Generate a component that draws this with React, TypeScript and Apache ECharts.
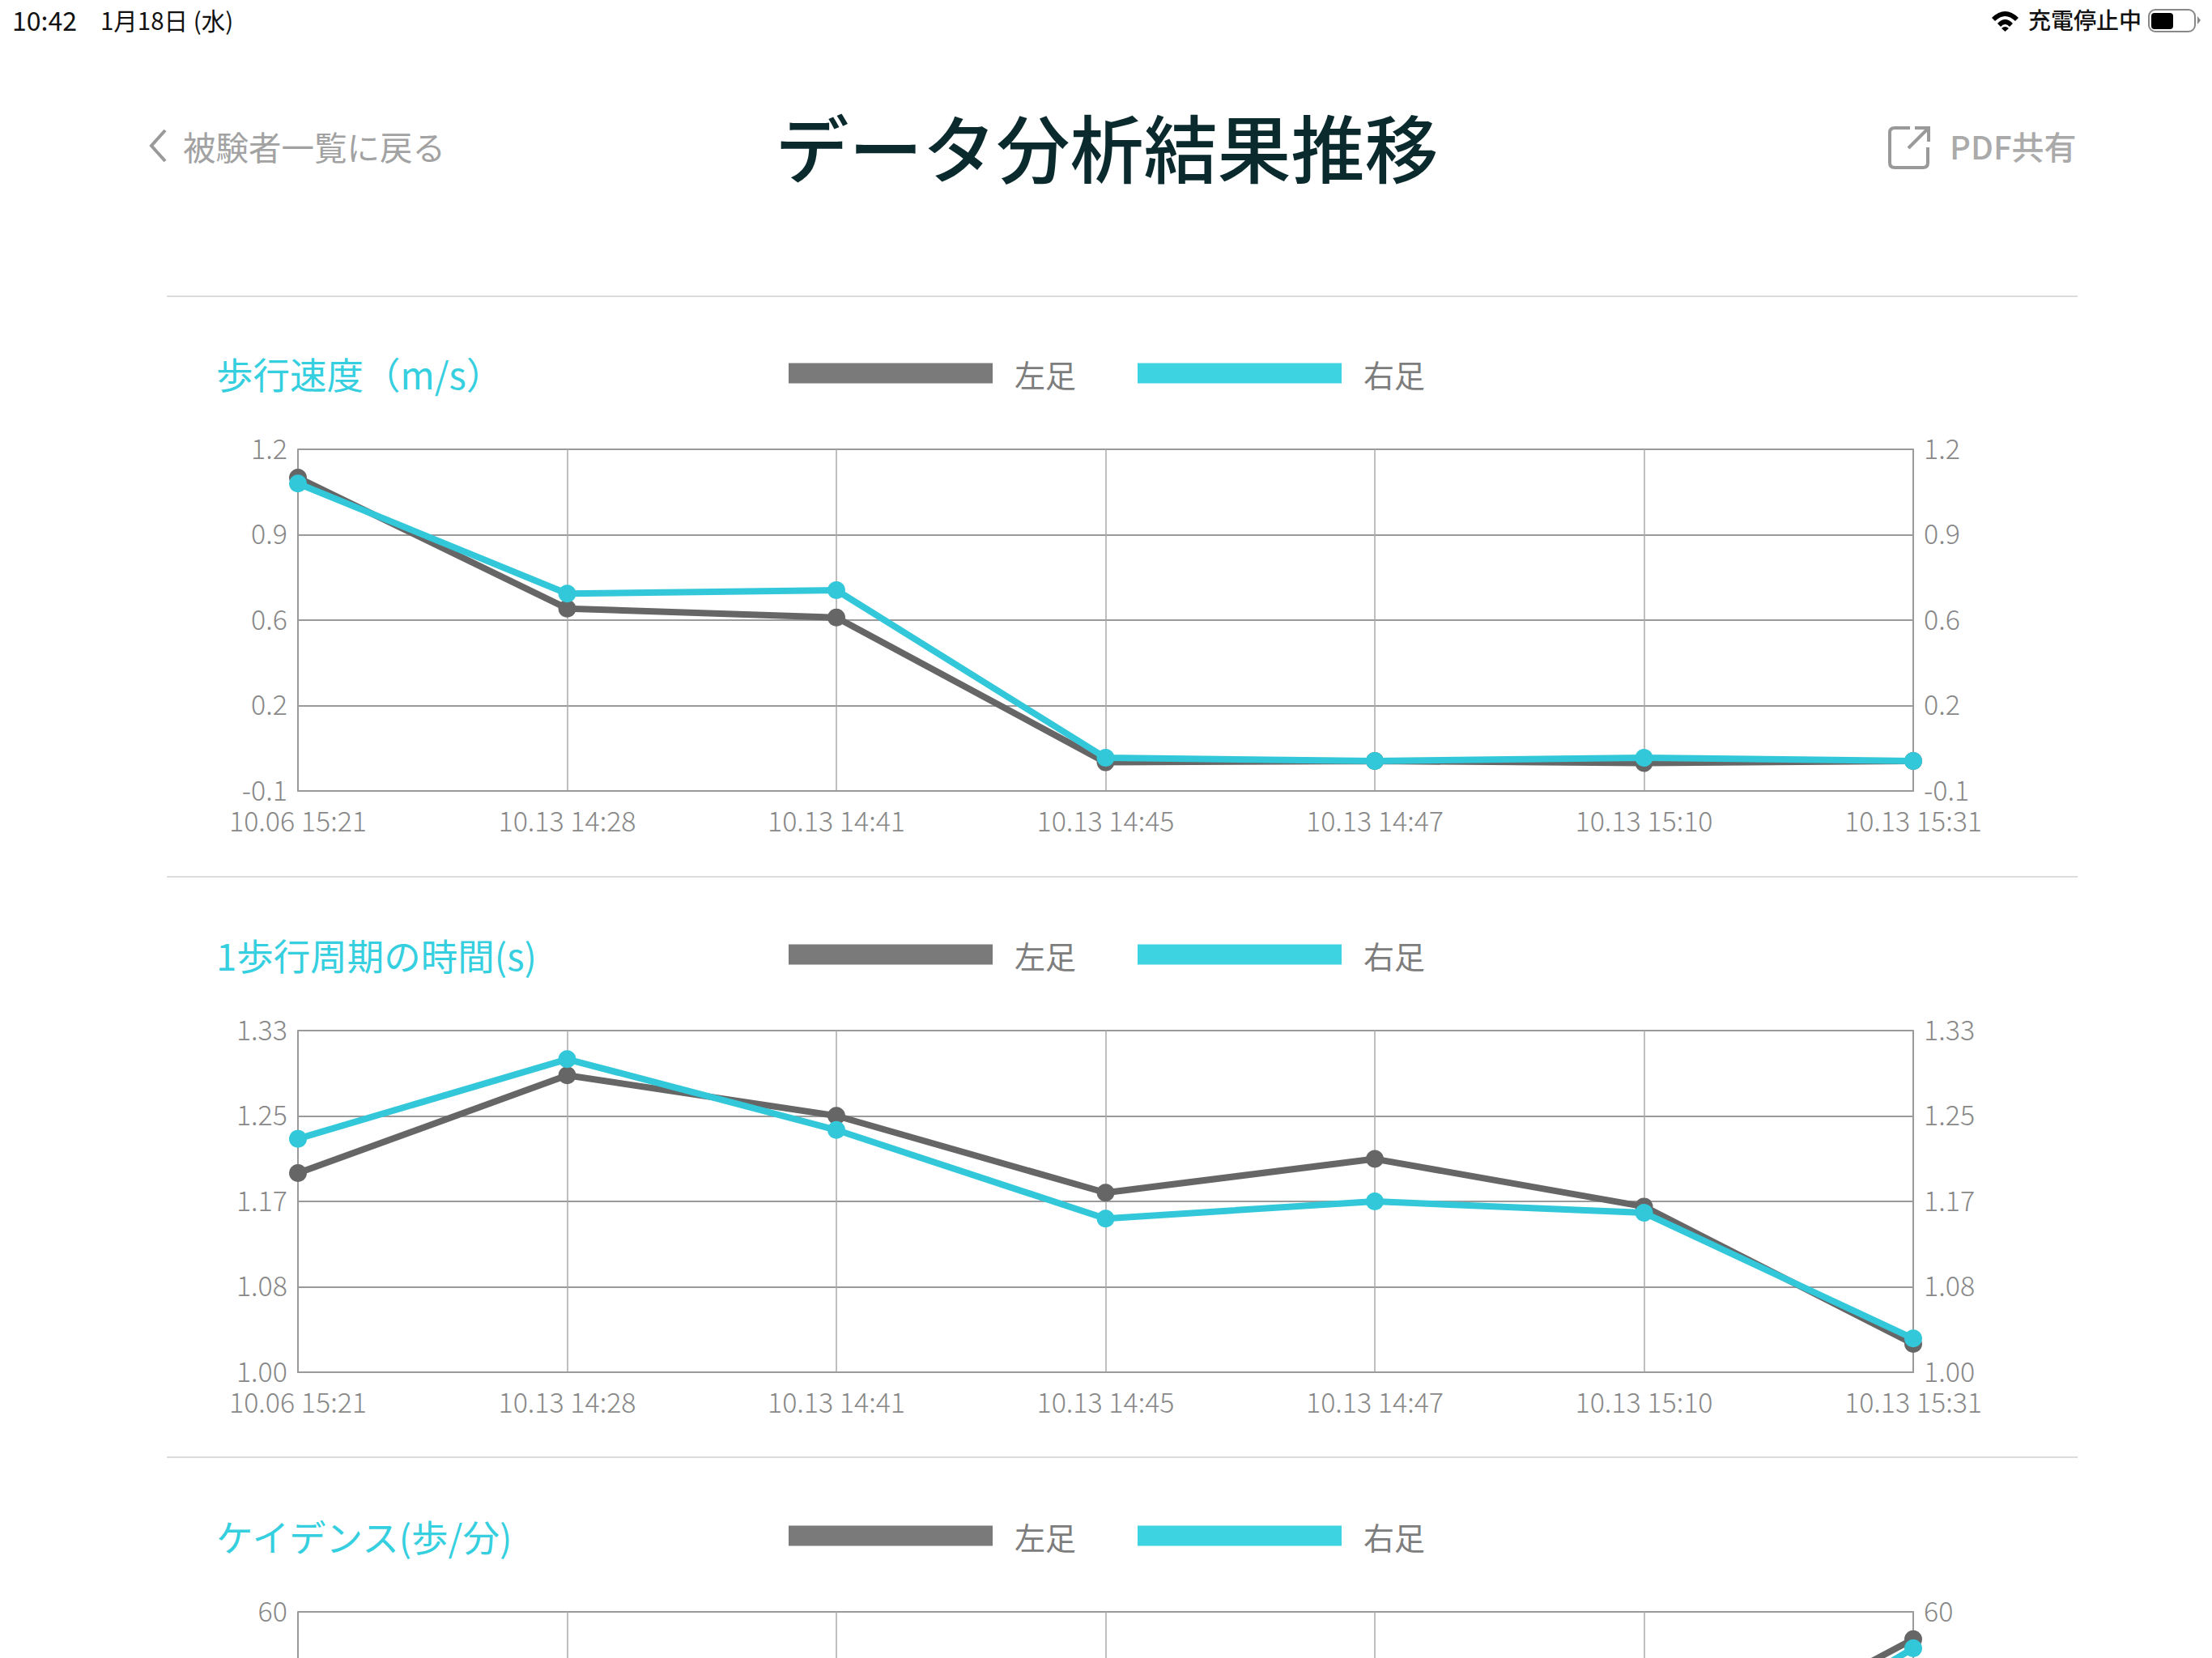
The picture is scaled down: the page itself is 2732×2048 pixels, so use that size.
import React, { useEffect, useRef } from "react";
import * as echarts from "echarts";

const sessions = ["10.06 15:21", "10.13 14:28", "10.13 14:41", "10.13 14:45", "10.13 14:47", "10.13 15:10", "10.13 15:31"];
const seriesNames = ["左足", "右足"];

const speedLeft = [1.092, 0.594, 0.56, 0.009, 0.014, 0.006, 0.014];
const speedRight = [1.07, 0.651, 0.664, 0.026, 0.014, 0.026, 0.014];
const speedTicks = [-0.1, 0.225, 0.55, 0.875, 1.2];

const cycleLeft = [1.1924, 1.2868, 1.2477, 1.1734, 1.206, 1.16, 1.0274];
const cycleRight = [1.2255, 1.3024, 1.234, 1.1484, 1.165, 1.154, 1.0326];
const cycleTicks = [1.0, 1.0825, 1.165, 1.2475, 1.33];

// Only the last segment of this chart is visible in the reference.
const cadenceLeft = [null, null, null, null, null, 30, 55.2];
const cadenceRight = [null, null, null, null, null, 25.3, 53.6];
const cadenceTicks = [60];

const panels = [
  { title: "歩行速度（m/s）", left: speedLeft, right: speedRight, ticks: speedTicks, min: -0.1, max: 1.2, digits: 1, top: 555, labels: true },
  { title: "1歩行周期の時間(s)", left: cycleLeft, right: cycleRight, ticks: cycleTicks, min: 1.0, max: 1.33, digits: 2, top: 1273, labels: true },
  { title: "ケイデンス(歩/分)", left: cadenceLeft, right: cadenceRight, ticks: cadenceTicks, min: 0, max: 60, digits: 0, top: 1991, labels: false },
];

const FONT = '"Noto Sans CJK JP", "Noto Sans", sans-serif';
const GREY = "#666666";
const CYAN = "#33c8d9";
const AXIS = "#9a9a9a";
const LABEL = "#888888";
const GRID_LEFT = 368;
const GRID_WIDTH = 1995;
const GRID_HEIGHT = 422;

echarts.graphic.registerShape(
  "wifi",
  echarts.graphic.extendPath(
    "M2460 22 Q2476.5 6 2493 22 L2489 26 Q2476.5 14 2464 26 Z M2467 29 Q2476.5 19 2486 29 L2482 33 Q2476.5 27 2471 33 Z M2472 35 Q2476.5 31 2481 35 L2476.5 39 Z",
    {}
  )
);
echarts.graphic.registerShape(
  "share",
  echarts.graphic.extendPath(
    "M2359 158 L2340 158 Q2334 158 2334 164 L2334 201 Q2334 207 2340 207 L2375 207 Q2381 207 2381 201 L2381 182 M2357 183 L2381 159 M2365 158 L2382 158 L2382 175",
    {}
  )
);

function buildOption() {
  const grid: any[] = [];
  const xAxis: any[] = [];
  const yAxis: any[] = [];
  const series: any[] = [];
  const legend: any[] = [];
  const graphic: any[] = [
    { type: "text", x: 15, y: 24, style: { text: "10:42", font: `32px ${FONT}`, fill: "#111", textVerticalAlign: "middle" } },
    { type: "text", x: 124, y: 24, style: { text: "1月18日 (水)", font: `29.5px ${FONT}`, fill: "#111", textVerticalAlign: "middle" } },
    { type: "wifi", style: { fill: "#000" } },
    { type: "text", x: 2505, y: 24, style: { text: "充電停止中", font: `500 28px ${FONT}`, fill: "#111", textVerticalAlign: "middle" } },
    { type: "rect", shape: { x: 2654, y: 12, width: 57, height: 27, r: 8 }, style: { fill: "#fff", stroke: "#888", lineWidth: 2 } },
    { type: "rect", shape: { x: 2657, y: 16, width: 27, height: 20, r: 4 }, style: { fill: "#000" } },
    { type: "polygon", shape: { points: [[2714, 20], [2718, 25], [2714, 30]] }, style: { fill: "#888" } },
    { type: "polyline", shape: { points: [[204, 161], [187, 180], [204, 199]] }, style: { stroke: "#999", lineWidth: 4, fill: "none" } },
    { type: "text", x: 226, y: 180, style: { text: "被験者一覧に戻る", font: `40.5px ${FONT}`, fill: "#a2a2a2", textVerticalAlign: "middle" } },
    { type: "text", x: 1367, y: 179, style: { text: "データ分析結果推移", font: `500 91px ${FONT}`, fill: "#0a2a2e", textAlign: "center", textVerticalAlign: "middle" } },
    { type: "share", style: { fill: "none", stroke: "#999", lineWidth: 4 } },
    { type: "text", x: 2408, y: 180, style: { text: "PDF共有", font: `500 40px ${FONT}`, fill: "#aaaaaa", textVerticalAlign: "middle" } },
  ];

  [366, 1083, 1800].forEach((y) => {
    graphic.push({ type: "line", shape: { x1: 206, y1: y, x2: 2566, y2: y }, style: { stroke: "#dcdcdc", lineWidth: 2 } });
  });

  panels.forEach((p, i) => {
    grid.push({ left: GRID_LEFT, top: p.top, width: GRID_WIDTH, height: GRID_HEIGHT, show: false, outerBoundsMode: "none", containLabel: false });
    xAxis.push({
      type: "category",
      gridIndex: i,
      data: sessions,
      boundaryGap: false,
      axisLine: { show: true, onZero: false, lineStyle: { color: AXIS, width: 2 } },
      axisTick: { show: false },
      splitLine: { show: true, interval: 0, lineStyle: { color: "#aaaaaa", width: 1.5 } },
      axisLabel: {
        show: p.labels,
        interval: 0,
        showMinLabel: true,
        showMaxLabel: true,
        margin: 18,
        color: LABEL,
        fontFamily: FONT,
        fontWeight: 300,
        fontSize: 34,
      },
    });
    const fmt = (v: number) => v.toFixed(p.digits);
    ["left", "right"].forEach((pos, k) => {
      yAxis.push({
        type: "value",
        gridIndex: i,
        position: pos,
        min: p.min,
        max: p.max,
        axisLine: { show: true, lineStyle: { color: AXIS, width: 2 } },
        axisTick: { show: false, customValues: p.ticks },
        splitLine: { show: k === 0, lineStyle: { color: AXIS, width: 2 } },
        axisLabel: {
          customValues: p.ticks,
          formatter: fmt,
          margin: 13,
          color: LABEL,
          fontFamily: FONT,
          fontWeight: 300,
          fontSize: 34,
          verticalAlign: "bottom",
          lineHeight: 6,
        },
      });
    });
    [p.left, p.right].forEach((values, k) => {
      series.push({
        name: seriesNames[k],
        type: "line",
        xAxisIndex: i,
        yAxisIndex: i * 2,
        data: values,
        clip: false,
        symbol: "circle",
        symbolSize: 22,
        showSymbol: true,
        connectNulls: false,
        z: 3 + k,
        lineStyle: { color: k === 0 ? GREY : CYAN, width: 8 },
        itemStyle: { color: k === 0 ? GREY : CYAN },
      });
    });
    legend.push({
      left: 969,
      top: p.top - 121,
      itemWidth: 252,
      itemHeight: 25,
      itemGap: 76,
      icon: "rect",
      selectedMode: false,
      data: [
        { name: seriesNames[0], itemStyle: { color: "#7a7a7a" } },
        { name: seriesNames[1], itemStyle: { color: "#3dd3e0" } },
      ],
      textStyle: { color: "#7d7d7d", fontFamily: FONT, fontSize: 38, padding: [6, 0, 0, 22], lineHeight: 38 },
    });
    graphic.push({
      type: "text",
      x: 267,
      y: p.top - 94,
      style: { text: p.title, font: `45.5px ${FONT}`, fill: "#35cfe0", textVerticalAlign: "middle" },
    });
  });

  return { animation: false, backgroundColor: "#ffffff", grid, xAxis, yAxis, series, legend, graphic, tooltip: { show: false } };
}

export default function App() {
  const ref = useRef<HTMLDivElement>(null);
  useEffect(() => {
    document.body.style.margin = "0";
    document.body.style.overflow = "hidden";
    const chart = echarts.init(ref.current!, undefined, { renderer: "svg" });
    chart.setOption(buildOption());
    return () => chart.dispose();
  }, []);
  return <div ref={ref} style={{ width: 2732, height: 2048, overflow: "hidden" }} />;
}
